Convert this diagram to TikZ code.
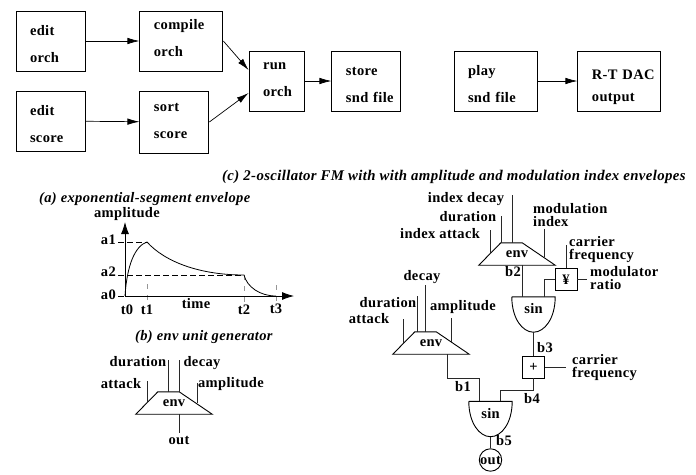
\documentclass[tikz,border=0pt]{standalone}
\usepackage{fontspec}
\usepackage{xcolor}
\usetikzlibrary{calc,arrows.meta,positioning}
\setmainfont[LetterSpace=2.5]{Liberation Serif}
\definecolor{wireGray}{RGB}{40,40,40}
\definecolor{tickGray}{RGB}{150,150,150}

\tikzset{
  boldtext/.style={font=\fontsize{14.5}{13}\selectfont\bfseries, inner sep=0pt},
  captiontext/.style={font=\fontsize{14.5}{13}\selectfont\bfseries\itshape, inner sep=0pt, anchor=west},
  procbox/.style={draw, line width=0.9pt, align=left, font=\fontsize{14.5}{27}\selectfont\bfseries,
    inner xsep=14pt, inner ysep=0pt, minimum height=60pt, text width=#1},
  procbox/.default=41pt,
  textoff/.style={execute at begin node={\rule{0pt}{\dimexpr15pt+#1\relax}},
    execute at end node={\rule[\dimexpr-15pt+#1\relax]{0pt}{\dimexpr15pt-#1\relax}}},
  flow/.style={-{Latex[length=12pt,width=6.5pt]}, line width=0.7pt},
  wire/.style={line width=0.9pt, color=wireGray},
  dashline/.style={dash pattern=on 6pt off 3pt, line width=0.6pt},
  tickline/.style={dash pattern=on 5pt off 6pt, line width=0.6pt, color=tickGray},
  envunit/.style={minimum width=76pt, minimum height=22pt, inner sep=0pt, boldtext,
    append after command={\pgfextra{\let\envlast\tikzlastnode
      \draw[line width=0.9pt] (\envlast.south west) -- ($(\envlast.north west)+(22,0)$)
        -- ($(\envlast.north east)+(-33,0)$) -- (\envlast.south east) -- cycle;}}},
  opbox/.style={draw, line width=0.9pt, minimum width=22pt, minimum height=22pt, inner sep=0pt, boldtext},
  sinunit/.style={minimum width=43pt, minimum height=35pt, inner sep=0pt, text height=8pt, text depth=10pt, boldtext,
    append after command={\pgfextra{\let\sinlast\tikzlastnode
      \draw[line width=0.9pt] (\sinlast.north west) -- (\sinlast.north east)
        .. controls ($(\sinlast.east)+(0,4)$) and ($(\sinlast.south)+(11,0)$) .. (\sinlast.south)
        .. controls ($(\sinlast.south)+(-11,0)$) and ($(\sinlast.west)+(0,4)$) .. (\sinlast.north west);}}},
  twoline/.style={boldtext, anchor=west, align=left},
}

\begin{document}
\begin{tikzpicture}[x=1pt, y=-1pt]
\useasboundingbox (0,0) rectangle (696,474);

% top row of steps
\node[procbox, textoff=7.5pt] (editorch) at (50.5,41) {edit\\orch};
\node[procbox=55pt, right=54pt of editorch, textoff=1.5pt] (compile) {compile\\orch};
\node[procbox, textoff=8pt] (editscore) at (50.5,121) {edit\\score};
\node[procbox, right=54pt of editscore, yshift=-1pt, minimum height=62pt, textoff=2.5pt] (sort) {sort\\score};
\node[procbox=27pt, textoff=1.5pt] (run) at (276.5,81) {run\\orch};
\node[procbox, right=27pt of run, textoff=7.5pt] (store) {store\\snd~file};
\node[procbox=55pt, textoff=7.5pt] (play) at (495.5,81) {play\\snd~file};
\node[procbox=55pt, right=40pt of play, textoff=9pt] (dac) {\mbox{R-T DAC}\\[-5pt]output};

\draw[flow] (editorch)--(compile);
\draw[flow] (editscore)--(sort);
\draw[flow] (compile.east)--($(run.west)+(0,-11)$);
\draw[flow] (sort.east)--($(run.west)+(0,12)$);
\draw[flow] (run)--(store);
\draw[flow] (play)--(dac);

% captions
\node[captiontext, font=\fontsize{14.8}{13}\selectfont\bfseries\itshape] (capc) at (222,177) {(c) 2-oscillator FM with with amplitude and modulation index envelopes};
\node[captiontext] (capa) at (39,199) {(a) exponential-segment envelope};
\node[captiontext] (capb) at (135,337) {(b) env unit generator};

% envelope graph
\coordinate (orig) at (125,296);
\coordinate (ytop) at (125,222);
\coordinate (xend) at (294,296);
\coordinate (ta) at (147,242);
\coordinate (tb) at (244,275);
\coordinate (tc) at (276,296);
\draw[dashline] (118,242)--(ta);
\draw[dashline] (118,275)--(tb);
\draw[dashline] (118,296)--(orig);
\draw[tickline] (147,284)--(147,306);
\draw[tickline] (tb)--(244,306);
\draw[tickline] (276,285)--(276,306);
\draw[-{Latex[length=12pt,width=8pt]}, line width=0.8pt] (orig)--(ytop);
\draw[-{Latex[length=12pt,width=8pt]}, line width=0.8pt] (orig)--(xend);
\draw[line width=0.8pt] (orig) .. controls (127,265) and (135,246) .. (ta)
  .. controls (165,262) and (200,275) .. (tb)
  .. controls (247,287) and (260,296) .. (tc);
\node[boldtext] (ampl) at (127,214) {amplitude};
\node[boldtext, anchor=east] (lbla) at (116,240) {a1};
\node[boldtext, anchor=east] (lblb) at (116,272) {a2};
\node[boldtext, anchor=east] (lblc) at (116,295) {a0};
\node[boldtext] (lblta) at (127,310) {t0};
\node[boldtext] (lbltb) at (147,310) {t1};
\node[boldtext] (lbltc) at (244,310) {t2};
\node[boldtext] (lbltd) at (276,309) {t3};
\node[boldtext] (lbltime) at (196,304) {time};

% env unit generator
\node[envunit] (envb) at (174,403) {env};
\coordinate (atkb) at (147,381);
\coordinate (durb) at (168,360);
\coordinate (decb) at (179,360);
\coordinate (ampb) at (197,383);
\coordinate (outb) at (179,433);
\draw[wire] (atkb)--(atkb |- envb.center);
\draw[wire] (durb)--(durb |- envb.north);
\draw[wire] (decb)--(decb |- envb.north);
\draw[wire] (ampb)--(ampb |- envb.center);
\draw[wire] (outb |- envb.south)--(outb);
\node[boldtext] (atkblbl) at (121,384) {attack};
\node[boldtext] (durblbl) at (138,362) {duration};
\node[boldtext] (decblbl) at (202,363) {decay};
\node[boldtext] (ampblbl) at (231,384) {amplitude};
\node[boldtext] (outblbl) at (179,441) {out};

% index envelope and modulator
\node[envunit] (enva) at (517,254) {env};
\node[opbox] (ratio) at (566,279.5) {¥};
\node[sinunit] (sina) at (533.5,314.5) {sin};
\node[opbox] (adder) at (533.5,367) {+};
\coordinate (atka) at (490,230);
\coordinate (dura) at (501,216);
\coordinate (deca) at (512,195);
\coordinate (modi) at (544,229);
\coordinate (cara) at (566,245);
\coordinate (rata) at (587,279.5);
\coordinate (carb) at (566,367);
\draw[wire] (atka)--(atka |- enva.center);
\draw[wire] (dura)--(dura |- enva.north);
\draw[wire] (deca)--(deca |- enva.north);
\draw[wire] (modi)--($(modi |- enva.center)+(0,3)$);
\draw[wire] (cara)--(ratio.north);
\draw[wire] (ratio.east)--(rata);
\draw[wire] (ratio.west)-|($(sina.north)+(10.5,0)$);
\draw[wire] ($(sina.north)+(-11.5,0)$)--($(enva.south)+(5,0)$);
\draw[wire] (sina.south)--(adder.north);
\draw[wire] (adder.east)--(carb);
\node[boldtext] (decalbl) at (466,199) {index decay};
\node[boldtext] (duralbl) at (468,217) {duration};
\node[boldtext] (atkalbl) at (440,234) {index attack};
\node[twoline] (modlbl) at (533,215) {modulation\\index};
\node[twoline] (carlbl) at (569,250) {carrier\\frequency};
\node[twoline] (ratlbl) at (590,278) {modulator\\ratio};
\node[twoline] (carblbl) at (572,368) {carrier\\frequency};
\node[boldtext] (btwo) at (513,272) {b2};
\node[boldtext] (bthree) at (545,348) {b3};

% amplitude envelope and carrier
\node[envunit] (envc) at (431,343) {env};
\node[sinunit] (sinb) at (490.5,419) {sin};
\node[circle, draw, line width=0.9pt, minimum size=22pt, inner sep=0pt, boldtext] (outc) at (490.5,460) {out};
\coordinate (atkc) at (403,319);
\coordinate (durc) at (417,296);
\coordinate (decc) at (425,285);
\coordinate (ampc) at (451,318);
\coordinate (bendc) at (447,378);
\coordinate (bendd) at (500,390);
\draw[wire] (atkc)--(atkc |- envc.center);
\draw[wire] (durc)--(durc |- envc.north);
\draw[wire] (decc)--(decc |- envc.north);
\draw[wire] (ampc)--(ampc |- envc.center);
\draw[wire] (bendc |- envc.south)--(bendc)-|($(sinb.north)+(-11.5,0)$);
\draw[wire] (adder.south)|-(bendd)--($(sinb.north)+(9.5,0)$);
\draw[wire] (sinb.south)--(outc.north);
\node[boldtext] (deccLbl) at (422,277) {decay};
\node[boldtext] (durcLbl) at (388,303) {duration};
\node[boldtext] (atkcLbl) at (369,319) {attack};
\node[boldtext] (ampcLbl) at (463,307) {amplitude};
\node[boldtext] (bone) at (463,387) {b1};
\node[boldtext] (bfour) at (532,399) {b4};
\node[boldtext] (bfive) at (504,441) {b5};
\end{tikzpicture}
\end{document}
